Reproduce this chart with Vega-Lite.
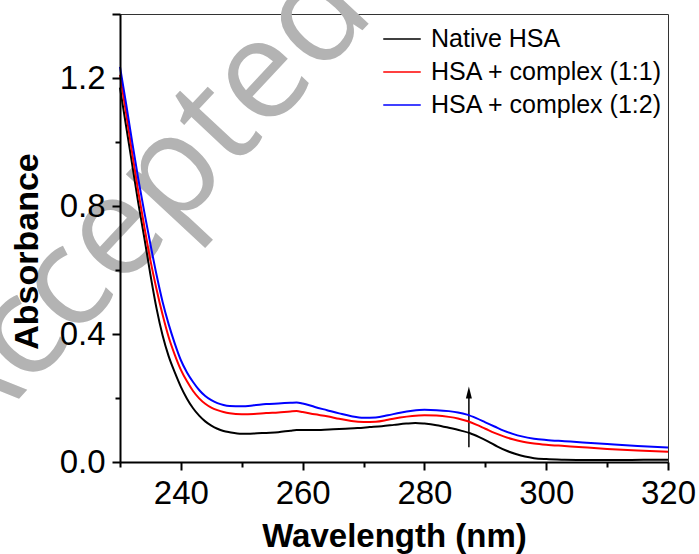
{
  "$schema": "https://vega.github.io/schema/vega-lite/v6.json",
  "width": 548,
  "height": 448,
  "autosize": {"type": "none"},
  "padding": {"left": 120, "top": 14, "right": 31, "bottom": 92},
  "background": "white",
  "config": {
    "view": {"stroke": "#333333", "strokeWidth": 1},
    "font": "Liberation Sans"
  },
  "resolve": {"axis": {"x": "independent", "y": "independent"}},
  "layer": [
    {
      "data": {"values": [{"label": "Accepted", "wx": 233.5, "wy": 0.8}]},
      "mark": {"type": "text", "font": "Open Sans", "fontSize": 140, "angle": -47, "color": "#b3b3b3", "align": "center", "baseline": "middle"},
      "encoding": {
        "x": {"field": "wx", "type": "quantitative", "scale": {"domain": [230, 320], "nice": false, "zero": false}, "axis": null},
        "y": {"field": "wy", "type": "quantitative", "scale": {"domain": [0, 1.4], "nice": false, "zero": false}, "axis": null},
        "text": {"field": "label"}
      }
    },
    {
      "data": {"values": [{"ax": 287.3, "ay": 0.046, "ay2": 0.205}]},
      "mark": {"type": "rule", "color": "black", "strokeWidth": 1.5},
      "encoding": {
        "x": {"field": "ax", "type": "quantitative", "scale": {"domain": [230, 320], "nice": false, "zero": false},
          "axis": {"orient": "bottom", "values": [230, 250, 270, 290, 310], "tickSize": 5, "tickWidth": 2, "tickColor": "black", "labels": false, "domain": false, "grid": false, "title": null, "zindex": 1}},
        "y": {"field": "ay", "type": "quantitative", "scale": {"domain": [0, 1.4], "nice": false, "zero": false},
          "axis": {"orient": "left", "values": [0.2, 0.6, 1.0], "tickSize": 5, "tickWidth": 2, "tickColor": "black", "labels": false, "domain": false, "grid": false, "title": null, "zindex": 1}},
        "y2": {"field": "ay2"}
      }
    },
    {
      "data": {"values": [{"ax": 287.3, "hy": 0.2175}]},
      "mark": {"type": "point", "shape": "M0,-1L-0.5,1L0.5,1Z", "size": 144, "filled": true, "color": "black", "opacity": 1},
      "encoding": {
        "x": {"field": "ax", "type": "quantitative", "scale": {"domain": [230, 320], "nice": false, "zero": false}, "axis": null},
        "y": {"field": "hy", "type": "quantitative", "scale": {"domain": [0, 1.4], "nice": false, "zero": false}, "axis": null}
      }
    },
    {
      "data": {"values": [
        {"series": "Native HSA", "wl": 230, "abs": 1.17},
        {"series": "Native HSA", "wl": 231, "abs": 1.05},
        {"series": "Native HSA", "wl": 232, "abs": 0.93},
        {"series": "Native HSA", "wl": 233, "abs": 0.81},
        {"series": "Native HSA", "wl": 234, "abs": 0.70},
        {"series": "Native HSA", "wl": 235, "abs": 0.585},
        {"series": "Native HSA", "wl": 236, "abs": 0.48},
        {"series": "Native HSA", "wl": 237, "abs": 0.395},
        {"series": "Native HSA", "wl": 238, "abs": 0.33},
        {"series": "Native HSA", "wl": 239, "abs": 0.28},
        {"series": "Native HSA", "wl": 240, "abs": 0.235},
        {"series": "Native HSA", "wl": 241, "abs": 0.198},
        {"series": "Native HSA", "wl": 242, "abs": 0.168},
        {"series": "Native HSA", "wl": 243, "abs": 0.145},
        {"series": "Native HSA", "wl": 244, "abs": 0.127},
        {"series": "Native HSA", "wl": 245, "abs": 0.114},
        {"series": "Native HSA", "wl": 246, "abs": 0.104},
        {"series": "Native HSA", "wl": 247, "abs": 0.097},
        {"series": "Native HSA", "wl": 248, "abs": 0.093},
        {"series": "Native HSA", "wl": 250, "abs": 0.088},
        {"series": "Native HSA", "wl": 252, "abs": 0.089},
        {"series": "Native HSA", "wl": 254, "abs": 0.091},
        {"series": "Native HSA", "wl": 256, "abs": 0.093},
        {"series": "Native HSA", "wl": 258, "abs": 0.098},
        {"series": "Native HSA", "wl": 259, "abs": 0.100},
        {"series": "Native HSA", "wl": 261, "abs": 0.100},
        {"series": "Native HSA", "wl": 263, "abs": 0.100},
        {"series": "Native HSA", "wl": 265, "abs": 0.102},
        {"series": "Native HSA", "wl": 267, "abs": 0.104},
        {"series": "Native HSA", "wl": 269, "abs": 0.106},
        {"series": "Native HSA", "wl": 271, "abs": 0.109},
        {"series": "Native HSA", "wl": 273, "abs": 0.112},
        {"series": "Native HSA", "wl": 275, "abs": 0.116},
        {"series": "Native HSA", "wl": 277, "abs": 0.120},
        {"series": "Native HSA", "wl": 278.5, "abs": 0.122},
        {"series": "Native HSA", "wl": 280, "abs": 0.120},
        {"series": "Native HSA", "wl": 282, "abs": 0.115},
        {"series": "Native HSA", "wl": 284, "abs": 0.107},
        {"series": "Native HSA", "wl": 286, "abs": 0.098},
        {"series": "Native HSA", "wl": 287.5, "abs": 0.090},
        {"series": "Native HSA", "wl": 289, "abs": 0.078},
        {"series": "Native HSA", "wl": 290.5, "abs": 0.064},
        {"series": "Native HSA", "wl": 292, "abs": 0.048},
        {"series": "Native HSA", "wl": 293.5, "abs": 0.035},
        {"series": "Native HSA", "wl": 295, "abs": 0.025},
        {"series": "Native HSA", "wl": 296.5, "abs": 0.017},
        {"series": "Native HSA", "wl": 298, "abs": 0.012},
        {"series": "Native HSA", "wl": 300, "abs": 0.009},
        {"series": "Native HSA", "wl": 303, "abs": 0.007},
        {"series": "Native HSA", "wl": 307, "abs": 0.006},
        {"series": "Native HSA", "wl": 312, "abs": 0.006},
        {"series": "Native HSA", "wl": 316, "abs": 0.007},
        {"series": "Native HSA", "wl": 320, "abs": 0.007},
        {"series": "HSA + complex (1:1)", "wl": 230, "abs": 1.21},
        {"series": "HSA + complex (1:1)", "wl": 231, "abs": 1.09},
        {"series": "HSA + complex (1:1)", "wl": 232, "abs": 0.965},
        {"series": "HSA + complex (1:1)", "wl": 233, "abs": 0.845},
        {"series": "HSA + complex (1:1)", "wl": 234, "abs": 0.735},
        {"series": "HSA + complex (1:1)", "wl": 235, "abs": 0.63},
        {"series": "HSA + complex (1:1)", "wl": 236, "abs": 0.54},
        {"series": "HSA + complex (1:1)", "wl": 237, "abs": 0.46},
        {"series": "HSA + complex (1:1)", "wl": 238, "abs": 0.39},
        {"series": "HSA + complex (1:1)", "wl": 239, "abs": 0.335},
        {"series": "HSA + complex (1:1)", "wl": 240, "abs": 0.288},
        {"series": "HSA + complex (1:1)", "wl": 241, "abs": 0.252},
        {"series": "HSA + complex (1:1)", "wl": 242, "abs": 0.222},
        {"series": "HSA + complex (1:1)", "wl": 243, "abs": 0.199},
        {"series": "HSA + complex (1:1)", "wl": 244, "abs": 0.182},
        {"series": "HSA + complex (1:1)", "wl": 245, "abs": 0.170},
        {"series": "HSA + complex (1:1)", "wl": 246, "abs": 0.162},
        {"series": "HSA + complex (1:1)", "wl": 247, "abs": 0.156},
        {"series": "HSA + complex (1:1)", "wl": 248, "abs": 0.152},
        {"series": "HSA + complex (1:1)", "wl": 250, "abs": 0.149},
        {"series": "HSA + complex (1:1)", "wl": 252, "abs": 0.150},
        {"series": "HSA + complex (1:1)", "wl": 254, "abs": 0.153},
        {"series": "HSA + complex (1:1)", "wl": 256, "abs": 0.155},
        {"series": "HSA + complex (1:1)", "wl": 258, "abs": 0.158},
        {"series": "HSA + complex (1:1)", "wl": 259, "abs": 0.159},
        {"series": "HSA + complex (1:1)", "wl": 260, "abs": 0.156},
        {"series": "HSA + complex (1:1)", "wl": 262, "abs": 0.149},
        {"series": "HSA + complex (1:1)", "wl": 264, "abs": 0.143},
        {"series": "HSA + complex (1:1)", "wl": 266, "abs": 0.135},
        {"series": "HSA + complex (1:1)", "wl": 268, "abs": 0.128},
        {"series": "HSA + complex (1:1)", "wl": 270, "abs": 0.125},
        {"series": "HSA + complex (1:1)", "wl": 272, "abs": 0.126},
        {"series": "HSA + complex (1:1)", "wl": 274, "abs": 0.132},
        {"series": "HSA + complex (1:1)", "wl": 276, "abs": 0.139},
        {"series": "HSA + complex (1:1)", "wl": 278, "abs": 0.144},
        {"series": "HSA + complex (1:1)", "wl": 280, "abs": 0.146},
        {"series": "HSA + complex (1:1)", "wl": 282, "abs": 0.145},
        {"series": "HSA + complex (1:1)", "wl": 284, "abs": 0.141},
        {"series": "HSA + complex (1:1)", "wl": 285.5, "abs": 0.136},
        {"series": "HSA + complex (1:1)", "wl": 287, "abs": 0.128},
        {"series": "HSA + complex (1:1)", "wl": 288.5, "abs": 0.117},
        {"series": "HSA + complex (1:1)", "wl": 290, "abs": 0.104},
        {"series": "HSA + complex (1:1)", "wl": 291.5, "abs": 0.091},
        {"series": "HSA + complex (1:1)", "wl": 293, "abs": 0.080},
        {"series": "HSA + complex (1:1)", "wl": 294.5, "abs": 0.071},
        {"series": "HSA + complex (1:1)", "wl": 296, "abs": 0.064},
        {"series": "HSA + complex (1:1)", "wl": 298, "abs": 0.058},
        {"series": "HSA + complex (1:1)", "wl": 300, "abs": 0.054},
        {"series": "HSA + complex (1:1)", "wl": 303, "abs": 0.050},
        {"series": "HSA + complex (1:1)", "wl": 306, "abs": 0.046},
        {"series": "HSA + complex (1:1)", "wl": 310, "abs": 0.041},
        {"series": "HSA + complex (1:1)", "wl": 315, "abs": 0.036},
        {"series": "HSA + complex (1:1)", "wl": 320, "abs": 0.032},
        {"series": "HSA + complex (1:2)", "wl": 230, "abs": 1.235},
        {"series": "HSA + complex (1:2)", "wl": 231, "abs": 1.12},
        {"series": "HSA + complex (1:2)", "wl": 232, "abs": 1.0},
        {"series": "HSA + complex (1:2)", "wl": 233, "abs": 0.885},
        {"series": "HSA + complex (1:2)", "wl": 234, "abs": 0.78},
        {"series": "HSA + complex (1:2)", "wl": 235, "abs": 0.68},
        {"series": "HSA + complex (1:2)", "wl": 236, "abs": 0.585},
        {"series": "HSA + complex (1:2)", "wl": 237, "abs": 0.50},
        {"series": "HSA + complex (1:2)", "wl": 238, "abs": 0.43},
        {"series": "HSA + complex (1:2)", "wl": 239, "abs": 0.37},
        {"series": "HSA + complex (1:2)", "wl": 240, "abs": 0.318},
        {"series": "HSA + complex (1:2)", "wl": 241, "abs": 0.28},
        {"series": "HSA + complex (1:2)", "wl": 242, "abs": 0.25},
        {"series": "HSA + complex (1:2)", "wl": 243, "abs": 0.225},
        {"series": "HSA + complex (1:2)", "wl": 244, "abs": 0.206},
        {"series": "HSA + complex (1:2)", "wl": 245, "abs": 0.193},
        {"series": "HSA + complex (1:2)", "wl": 246, "abs": 0.184},
        {"series": "HSA + complex (1:2)", "wl": 247, "abs": 0.178},
        {"series": "HSA + complex (1:2)", "wl": 248, "abs": 0.175},
        {"series": "HSA + complex (1:2)", "wl": 250, "abs": 0.174},
        {"series": "HSA + complex (1:2)", "wl": 252, "abs": 0.177},
        {"series": "HSA + complex (1:2)", "wl": 254, "abs": 0.181},
        {"series": "HSA + complex (1:2)", "wl": 256, "abs": 0.183},
        {"series": "HSA + complex (1:2)", "wl": 258, "abs": 0.185},
        {"series": "HSA + complex (1:2)", "wl": 259, "abs": 0.186},
        {"series": "HSA + complex (1:2)", "wl": 260, "abs": 0.183},
        {"series": "HSA + complex (1:2)", "wl": 262, "abs": 0.172},
        {"series": "HSA + complex (1:2)", "wl": 264, "abs": 0.162},
        {"series": "HSA + complex (1:2)", "wl": 266, "abs": 0.152},
        {"series": "HSA + complex (1:2)", "wl": 268, "abs": 0.143},
        {"series": "HSA + complex (1:2)", "wl": 270, "abs": 0.138},
        {"series": "HSA + complex (1:2)", "wl": 272, "abs": 0.139},
        {"series": "HSA + complex (1:2)", "wl": 274, "abs": 0.146},
        {"series": "HSA + complex (1:2)", "wl": 276, "abs": 0.154},
        {"series": "HSA + complex (1:2)", "wl": 278, "abs": 0.160},
        {"series": "HSA + complex (1:2)", "wl": 280, "abs": 0.163},
        {"series": "HSA + complex (1:2)", "wl": 282, "abs": 0.162},
        {"series": "HSA + complex (1:2)", "wl": 284, "abs": 0.159},
        {"series": "HSA + complex (1:2)", "wl": 285.5, "abs": 0.155},
        {"series": "HSA + complex (1:2)", "wl": 287, "abs": 0.148},
        {"series": "HSA + complex (1:2)", "wl": 288.5, "abs": 0.137},
        {"series": "HSA + complex (1:2)", "wl": 290, "abs": 0.124},
        {"series": "HSA + complex (1:2)", "wl": 291.5, "abs": 0.111},
        {"series": "HSA + complex (1:2)", "wl": 293, "abs": 0.098},
        {"series": "HSA + complex (1:2)", "wl": 294.5, "abs": 0.088},
        {"series": "HSA + complex (1:2)", "wl": 296, "abs": 0.080},
        {"series": "HSA + complex (1:2)", "wl": 298, "abs": 0.073},
        {"series": "HSA + complex (1:2)", "wl": 300, "abs": 0.069},
        {"series": "HSA + complex (1:2)", "wl": 303, "abs": 0.065},
        {"series": "HSA + complex (1:2)", "wl": 306, "abs": 0.061},
        {"series": "HSA + complex (1:2)", "wl": 310, "abs": 0.056},
        {"series": "HSA + complex (1:2)", "wl": 315, "abs": 0.050},
        {"series": "HSA + complex (1:2)", "wl": 320, "abs": 0.045}
      ]},
      "mark": {"type": "line", "strokeWidth": 2, "interpolate": "monotone"},
      "encoding": {
        "x": {"field": "wl", "type": "quantitative", "scale": {"domain": [230, 320], "nice": false, "zero": false},
          "axis": {"orient": "bottom", "values": [240, 260, 280, 300, 320], "format": "d", "tickSize": 8, "tickWidth": 2, "tickColor": "black", "domainWidth": 2, "domainColor": "black", "grid": false,
            "labelFontSize": 33, "labelColor": "black", "labelPadding": 7, "labelFlush": false, "labelOverlap": false,
            "title": "Wavelength (nm)", "titleFontSize": 33, "titleFontWeight": "bold", "titleColor": "black", "titleY": 84, "titleBaseline": "alphabetic", "zindex": 1}},
        "y": {"field": "abs", "type": "quantitative", "scale": {"domain": [0, 1.4], "nice": false, "zero": false},
          "axis": {"orient": "left", "values": [0, 0.4, 0.8, 1.2, 1.4], "labelExpr": "datum.value > 1.3 ? '' : format(datum.value, '.1f')", "tickSize": 8, "tickWidth": 2, "tickColor": "black", "domainWidth": 2, "domainColor": "black", "grid": false,
            "labelFontSize": 33, "labelColor": "black", "labelPadding": 7, "labelFlush": false, "labelOverlap": false,
            "title": "Absorbance", "titleFontSize": 34, "titleFontWeight": "bold", "titleColor": "black", "titleX": -83, "titleY": 237, "titleBaseline": "alphabetic", "titleAngle": 270, "zindex": 1}},
        "color": {"field": "series", "type": "nominal",
          "scale": {"domain": ["Native HSA", "HSA + complex (1:1)", "HSA + complex (1:2)"], "range": ["#000000", "#ff0000", "#0000ff"]},
          "legend": {"orient": "none", "legendX": 268.5, "legendY": 11.5, "title": null, "padding": 0,
            "symbolType": "M-1.5,0H1.5", "symbolSize": 625, "symbolStrokeWidth": 1.5,
            "labelFontSize": 25, "labelColor": "black", "labelOffset": 15.5, "labelLimit": 400, "rowPadding": 6}}
      }
    }
  ]
}
